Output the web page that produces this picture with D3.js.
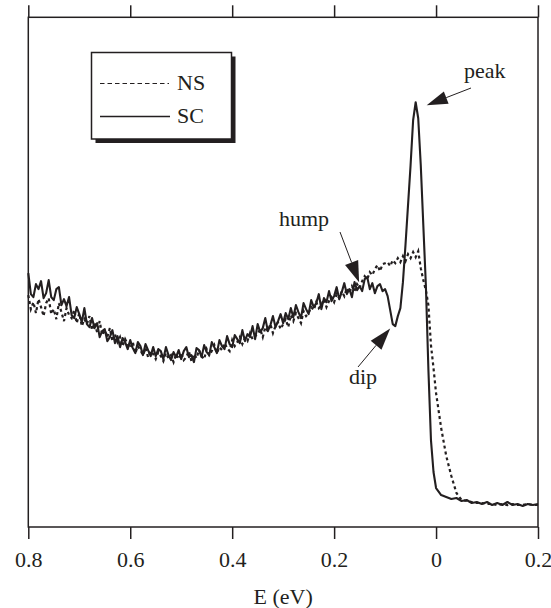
<!DOCTYPE html>
<html>
<head>
<meta charset="utf-8">
<script src="https://cdn.jsdelivr.net/npm/d3@7"></script>
<style>
  html, body { margin: 0; padding: 0; background: #fff; }
  svg { display: block; }
  text { font-family: "Liberation Serif", "Times New Roman", serif; fill: #231f20; }
</style>
</head>
<body>
<svg id="chart" width="551" height="608"></svg>
<script>
// ---- data (E in eV, intensity in arbitrary units) ----
const energy = [
  0.800,0.795,0.790,0.785,0.780,0.775,0.770,0.765,0.760,0.755,
  0.750,0.745,0.740,0.735,0.730,0.725,0.720,0.715,0.710,0.705,
  0.700,0.695,0.690,0.685,0.680,0.675,0.670,0.665,0.660,0.655,
  0.650,0.645,0.640,0.635,0.630,0.625,0.620,0.615,0.610,0.605,
  0.600,0.595,0.590,0.585,0.580,0.575,0.570,0.565,0.560,0.555,
  0.550,0.545,0.540,0.535,0.530,0.525,0.520,0.515,0.510,0.505,
  0.500,0.495,0.490,0.485,0.480,0.475,0.470,0.465,0.460,0.455,
  0.450,0.445,0.440,0.435,0.430,0.425,0.420,0.415,0.410,0.405,
  0.400,0.395,0.390,0.385,0.380,0.375,0.370,0.365,0.360,0.355,
  0.350,0.345,0.340,0.335,0.330,0.325,0.320,0.315,0.310,0.305,
  0.300,0.295,0.290,0.285,0.280,0.275,0.270,0.265,0.260,0.255,
  0.250,0.245,0.240,0.235,0.230,0.225,0.220,0.215,0.210,0.205,
  0.200,0.195,0.190,0.185,0.180,0.175,0.170,0.165,0.160,0.155,
  0.150,0.145,0.140,0.135,0.130,0.125,0.120,0.115,0.110,0.105,
  0.100,
  0.095,0.090,0.085,0.080,0.075,0.070,0.065,0.060,0.055,0.050,
  0.045,0.040,0.035,0.030,0.025,0.020,0.015,0.010,0.005,
  0.00,-0.01,-0.02,-0.03,-0.04,-0.05,-0.06,-0.07,-0.08,-0.09,
  -0.10,-0.11,-0.12,-0.13,-0.14,-0.15,-0.16,-0.17,-0.18,-0.19,-0.20
];
const scValues = [
  254,233,230,243,238,246,229,234,247,230,
  227,238,240,222,228,221,230,212,209,220,
  213,205,219,203,200,209,199,204,190,196,
  198,186,190,197,184,191,180,189,185,178,
  187,179,174,185,181,172,183,177,171,180,
  171,178,176,168,180,172,167,175,170,177,
  168,176,180,170,172,165,179,177,170,182,
  175,172,185,180,174,187,181,178,191,183,
  180,192,188,184,197,186,193,190,201,188,
  203,195,199,209,196,202,211,200,206,213,
  204,214,208,219,210,222,215,209,224,218,
  213,227,220,224,233,218,229,225,236,226,
  231,240,228,235,244,233,238,230,245,237,
  241,236,248,250,238,244,234,241,243,236,
  238,
  231,217,203,201,211,219,245,282,322,362,
  407,425,409,362,302,242,157,87,55,
  39,32,30,28,29,26,27,24,25,23,
  25,22,24,22,25,22,23,21,23,22,23
];
const nsValues = [
  232,218,225,214,228,220,211,224,229,213,
  218,208,224,215,206,219,212,209,217,204,
  214,201,208,203,211,197,204,195,206,192,
  197,190,199,186,193,185,190,181,188,183,
  179,185,174,181,177,172,179,170,176,173,
  168,175,171,166,174,169,172,165,173,168,
  174,167,170,176,166,173,169,177,171,168,
  178,172,176,182,174,180,177,184,179,176,
  187,181,185,190,183,189,186,194,188,191,
  193,198,190,200,196,203,194,201,205,198,
  203,208,200,212,206,214,209,204,216,211,
  214,220,217,225,219,222,228,220,226,230,
  225,233,229,236,231,239,234,241,236,243,
  239,246,251,248,255,252,258,262,256,263,
  264,
  265,261,267,264,269,265,271,266,273,269,
  275,270,276,259,247,237,222,182,159,
  134,99,71,51,34,27,26,25,24,24,
  23,23,22,23,22,23,22,22,23,22,22
];
const tickValues = [0.8, 0.6, 0.4, 0.2, 0, -0.2];
const tickLabels = ["0.8", "0.6", "0.4", "0.2", "0", "0.2"];
const seriesNames = ["NS", "SC"];
const annotations = [
  {label: "peak", E: 0.040, value: 425},
  {label: "hump", E: 0.130, value: 257},
  {label: "dip",  E: 0.090, value: 199}
];

// ---- layout ----
const svg = d3.select("#chart");
const L = 28.3, R = 538, T = 17.3, B = 527;
const x = d3.scaleLinear().domain([0.8, -0.2]).range([L, R]);
const y = d3.scaleLinear().domain([0, 510]).range([B, T]);
const ink = "#231f20";
const font = "'Liberation Serif', 'Times New Roman', serif";

// axes
const bottomAxis = svg.append("g").attr("transform", `translate(0,${B})`)
  .call(d3.axisBottom(x).tickValues(tickValues).tickFormat((d, i) => tickLabels[i]).tickSize(12).tickSizeOuter(0));
bottomAxis.attr("font-family", null).attr("font-size", null);
bottomAxis.select(".domain").remove();
bottomAxis.selectAll("line").attr("stroke", ink).attr("stroke-width", 1.5);
bottomAxis.selectAll("text").attr("y", 40).attr("dy", null)
  .style("font-size", "22px").style("font-family", font).attr("fill", ink);

const topAxis = svg.append("g").attr("transform", `translate(0,${T})`)
  .call(d3.axisTop(x).tickValues(tickValues).tickFormat("").tickSize(12).tickSizeOuter(0));
topAxis.select(".domain").remove();
topAxis.selectAll("line").attr("stroke", ink).attr("stroke-width", 1.5);

// frame
svg.append("rect").attr("x", L).attr("y", T).attr("width", R - L).attr("height", B - T)
  .attr("fill", "none").attr("stroke", ink).attr("stroke-width", 1.5);

// axis title
svg.append("text").attr("x", (L + R) / 2).attr("y", 604).attr("text-anchor", "middle")
  .style("font-size", "22px").style("font-family", font).text("E (eV)");

// lines
const line = vals => d3.line().x((d, i) => x(energy[i])).y(d => y(d))(vals);
svg.append("path").attr("d", line(nsValues)).attr("fill", "none")
  .attr("stroke", ink).attr("stroke-width", 2.2).attr("stroke-dasharray", "3,3");
svg.append("path").attr("d", line(scValues)).attr("fill", "none")
  .attr("stroke", ink).attr("stroke-width", 2.1).attr("stroke-linejoin", "round");

// legend
const lg = svg.append("g");
lg.append("rect").attr("x", 95.5).attr("y", 56.5).attr("width", 140).attr("height", 86.5).attr("fill", ink);
lg.append("rect").attr("x", 91.5).attr("y", 52.5).attr("width", 140).attr("height", 86.5)
  .attr("fill", "#fff").attr("stroke", ink).attr("stroke-width", 1.5);
lg.append("line").attr("x1", 100).attr("x2", 169).attr("y1", 83.5).attr("y2", 83.5)
  .attr("stroke", ink).attr("stroke-width", 1.2).attr("stroke-dasharray", "4.5,3");
lg.append("line").attr("x1", 100).attr("x2", 170).attr("y1", 116.5).attr("y2", 116.5)
  .attr("stroke", ink).attr("stroke-width", 1.5);
lg.append("text").attr("x", 177).attr("y", 90).style("font-size", "22px").style("font-family", font).text(seriesNames[0]);
lg.append("text").attr("x", 177).attr("y", 123).style("font-size", "22px").style("font-family", font).text(seriesNames[1]);

// annotations: arrow = thin line + filled triangle head
function arrow(tipX, tipY, tailX, tailY, headLen, headHalf) {
  const dx = tailX - tipX, dy = tailY - tipY, len = Math.hypot(dx, dy);
  const ux = dx / len, uy = dy / len, px = -uy, py = ux;
  const bx = tipX + ux * headLen, by = tipY + uy * headLen;
  svg.append("line").attr("x1", bx).attr("y1", by).attr("x2", tailX).attr("y2", tailY)
    .attr("stroke", ink).attr("stroke-width", 1);
  svg.append("path").attr("d", `M${tipX},${tipY}L${bx + px * headHalf},${by + py * headHalf}L${bx - px * headHalf},${by - py * headHalf}Z`)
    .attr("fill", ink);
}
// peak
const pk = annotations[0];
arrow(x(pk.E) + 11, y(pk.value) + 3, 471, 88, 21, 6.5);
svg.append("text").attr("x", 464).attr("y", 78).style("font-size", "22px").style("font-family", font).text(pk.label);
// hump
const hm = annotations[1];
arrow(x(hm.E) - 10.7, y(hm.value) + 12, 340, 232, 21, 7);
svg.append("text").attr("x", 279).attr("y", 226).style("font-size", "22px").style("font-family", font).text(hm.label);
// dip
const dp = annotations[2];
arrow(x(dp.E), y(dp.value) + 0.3, 358, 367, 22, 7);
svg.append("text").attr("x", 349).attr("y", 384).style("font-size", "22px").style("font-family", font).text(dp.label);
</script>
</body>
</html>
